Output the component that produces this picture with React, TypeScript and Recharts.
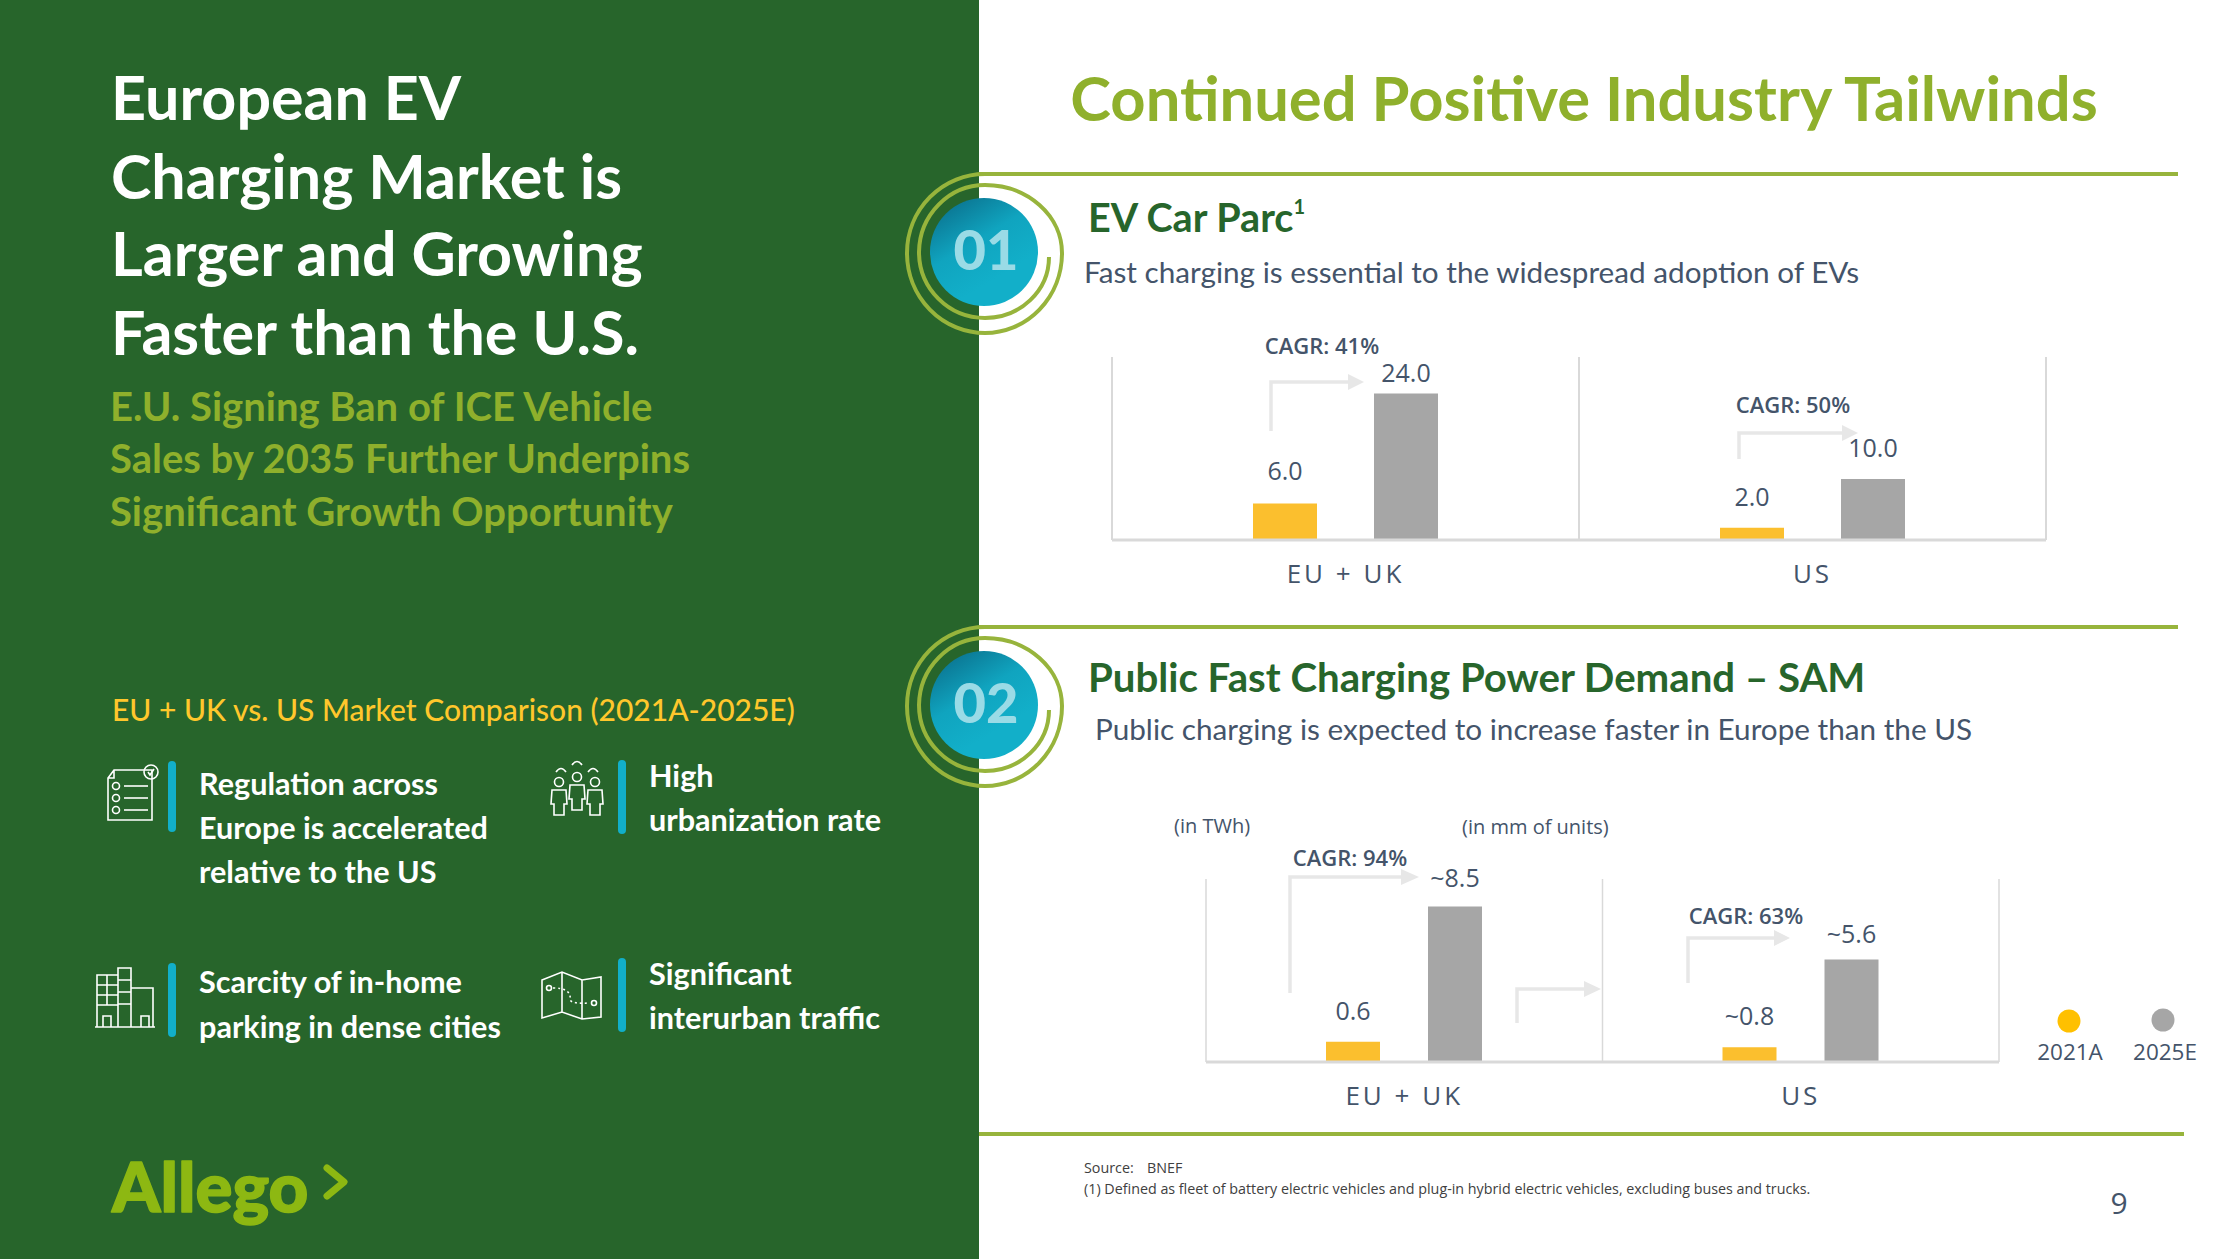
import { BarChart, Bar, XAxis, YAxis, CartesianGrid, LabelList } from "recharts";

// ─── Data ─────────────────────────────────────────────────────────────────────

const regions = ["EU + UK", "US"];
const carParc2021 = [6.0, 2.0];
const carParc2025 = [24.0, 10.0];
const carParcLabels2021 = ["6.0", "2.0"];
const carParcLabels2025 = ["24.0", "10.0"];

// the 0.6 bar sits in TWh on the slide, so its drawn height is taller than its label
const demand2021 = [1.1, 0.8];
const demand2025 = [8.5, 5.6];
const demandLabels2021 = ["0.6", "~0.8"];
const demandLabels2025 = ["~8.5", "~5.6"];

const legendItems = ["2021A", "2025E"];

const headingLines = ["European EV", "Charging Market is", "Larger and Growing", "Faster than the U.S."];
const subheadingLines = ["E.U. Signing Ban of ICE Vehicle", "Sales by 2035 Further Underpins", "Significant Growth Opportunity"];

// ─── Colours ──────────────────────────────────────────────────────────────────

const PANEL = "#27652B";
const LIME = "#8FB02C";
const RULE = "#97B43C";
const SLATE = "#44546A";
const YELLOW = "#FBBF2E";
const GRAY = "#A6A6A6";
const AXIS = "#D9D9D9";
const ARROW = "#E7E7E7";
const TEAL = "#12AFC9";
const SANS = "Lato";
const LABEL = "'Open Sans'";

// room above the plot so tall bar labels are not clipped by the chart's svg
const TOP_ROOM = 40;

// ─── Helpers ──────────────────────────────────────────────────────────────────

function T({ x, y, size, fill, weight = 400, anchor = "start", family = SANS, children }: any) {
  return (
    <text x={x} y={y - 1.5} fontSize={size} fill={fill} fontWeight={weight} textAnchor={anchor} fontFamily={family} dominantBaseline="central">
      {children}
    </text>
  );
}

function ElbowArrow({ x, y0, y1, x1, tip }: { x: number; y0: number; y1: number; x1: number; tip: number }) {
  return (
    <g>
      <path d={`M${x} ${y0} V${y1} H${x1}`} fill="none" stroke={ARROW} strokeWidth={3.5} />
      <path d={`M${x1} ${y1 - 8} L${tip} ${y1} L${x1} ${y1 + 8} Z`} fill={ARROW} />
    </g>
  );
}

function Badge({ dy, num }: { dy: number; num: string }) {
  return (
    <g transform={`translate(0 ${dy})`}>
      <circle cx={984} cy={252} r={54} fill="url(#discGradient)" />
      <path
        d="M985 174 A78 79 0 0 0 907 253 A78 80 0 0 0 985 333 A77 80 0 0 0 1062 253 A77 68 0 0 0 985 185 A66 68 0 0 0 919 252 A66 66 0 0 0 985 318 A64 61 0 0 0 1049 257"
        fill="none"
        stroke={RULE}
        strokeWidth={4}
      />
      <T x={986} y={250} size={56} fill="#9ADBE6" weight={900} anchor="middle">{num}</T>
    </g>
  );
}

function LineIcons() {
  const s = { fill: "none", stroke: "#fff", strokeWidth: 1.6 };
  return (
    <g>
      {/* checklist */}
      <path d="M114 770 H152 V820 H108 V778 Z M108 778 H114 V770" {...s} />
      <circle cx={151} cy={772} r={7} {...s} />
      <path d="M148 772 L150 775 L154 769" {...s} />
      {[786, 798, 810].map((y) => (
        <g key={y}>
          <circle cx={116} cy={y} r={3.5} {...s} />
          <path d={`M124 ${y} H148`} {...s} />
        </g>
      ))}
      {/* people */}
      {[[559, 782], [577, 777], [595, 782]].map(([x, y]) => (
        <g key={x}>
          <circle cx={x} cy={y} r={4.5} {...s} />
          <path d={`M${x - 7} ${y + 8} H${x + 7} L${x + 8} ${y + 22} H${x + 5} V${y + 33} H${x - 5} V${y + 22} H${x - 8} Z`} {...s} />
        </g>
      ))}
      <path d="M556 772 Q561 765 566 772 M572 765 Q577 758 582 765 M588 772 Q593 765 598 772" {...s} />
      {/* buildings */}
      <path d="M95 1027 H155 M97 1027 V975 H118 V1027 M118 1027 V968 H131 V1027 M131 1027 V988 H153 V1027" {...s} />
      <path d="M97 985 H118 M97 995 H118 M97 1005 H118 M107 975 V1005 M118 980 H131 M118 992 H131 M118 1004 H131" {...s} />
      <path d="M103 1027 V1016 H111 V1027 M141 1027 V1016 H149 V1027" {...s} />
      {/* map */}
      <path d="M542 980 L562 972 L582 980 L601 977 V1017 L582 1019 L562 1012 L542 1018 Z M562 972 V1012 M582 980 V1019" {...s} />
      <circle cx={549} cy={988} r={2.5} {...s} />
      <circle cx={594} cy={1003} r={2.5} {...s} />
      <path d="M553 988 Q572 988 570 1000 Q572 1004 590 1003" {...s} strokeDasharray="2 3" />
    </g>
  );
}

// ─── Chart ────────────────────────────────────────────────────────────────────

function RegionBars({ v2021, v2025, labels2021, labels2025, gaps2021, gaps2025, max, width, height, barSize, barGap, gridWidth }: any) {
  const rows = regions.map((region, i) => ({
    region,
    a: v2021[i],
    b: v2025[i],
    labelA: labels2021[i],
    labelB: labels2025[i],
  }));

  const barLabel = (gaps: number[]) => (p: any) => (
    <text
      x={p.x + p.width / 2}
      y={p.y - gaps[p.index]}
      textAnchor="middle"
      dominantBaseline="central"
      fontSize={25}
      fontFamily={LABEL}
      fill={SLATE}
    >
      {p.value}
    </text>
  );

  return (
    <BarChart
      width={width + 8}
      height={height + 60 + TOP_ROOM}
      data={rows}
      barSize={barSize}
      barGap={barGap}
      margin={{ top: TOP_ROOM, right: 4, left: 4, bottom: 0 }}
    >
      <CartesianGrid
        horizontal={false}
        stroke={AXIS}
        strokeWidth={gridWidth}
        verticalCoordinatesGenerator={({ offset }: any) => [
          offset.left,
          offset.left + offset.width / 2,
          offset.left + offset.width,
        ]}
      />
      <XAxis
        dataKey="region"
        height={60}
        axisLine={{ stroke: AXIS, strokeWidth: 3 }}
        tickLine={false}
        tickMargin={19}
        interval={0}
        tick={{ fontSize: 26, fill: SLATE, fontFamily: LABEL, letterSpacing: 3 }}
      />
      <YAxis hide domain={[0, max]} />
      <Bar dataKey="a" fill={YELLOW} isAnimationActive={false}>
        <LabelList dataKey="labelA" content={barLabel(gaps2021)} />
      </Bar>
      <Bar dataKey="b" fill={GRAY} isAnimationActive={false}>
        <LabelList dataKey="labelB" content={barLabel(gaps2025)} />
      </Bar>
    </BarChart>
  );
}

// ─── Slide ────────────────────────────────────────────────────────────────────

export default function App() {
  const headingY = [98, 177, 254, 333];
  const subY = [407, 459, 512];
  const itemSize = 30.6;
  return (
    <div style={{ position: "absolute", left: 0, top: 0, width: 2239, height: 1259, background: "#fff", overflow: "hidden" }}>
      <svg width={2239} height={1259} style={{ position: "absolute", left: 0, top: 0 }}>
        <defs>
          <linearGradient id="discGradient" x1="0.15" y1="0" x2="0.6" y2="0.75">
            <stop offset="0%" stopColor="#0A6F8C" />
            <stop offset="55%" stopColor="#10A4BF" />
            <stop offset="100%" stopColor={TEAL} />
          </linearGradient>
        </defs>

        <rect x={0} y={0} width={979} height={1259} fill={PANEL} />

        {headingLines.map((line, i) => (
          <T key={line} x={111} y={headingY[i]} size={61} fill="#fff" weight={700}>{line}</T>
        ))}
        {subheadingLines.map((line, i) => (
          <T key={line} x={110} y={subY[i]} size={40} fill={LIME} weight={700}>{line}</T>
        ))}
        <T x={112} y={710} size={30} fill="#FFC72C" weight={500}>EU + UK vs. US Market Comparison (2021A-2025E)</T>

        <LineIcons />
        {[[172, 761, 71], [622, 760, 74], [172, 963, 74], [622, 958, 74]].map(([x, y, h]) => (
          <rect key={`${x}-${y}`} x={x - 4} y={y} width={8} height={h} rx={4} fill={TEAL} />
        ))}
        <T x={199} y={785} size={itemSize} fill="#fff" weight={700}>Regulation across</T>
        <T x={199} y={829} size={itemSize} fill="#fff" weight={700}>Europe is accelerated</T>
        <T x={199} y={873} size={itemSize} fill="#fff" weight={700}>relative to the US</T>
        <T x={649} y={777} size={itemSize} fill="#fff" weight={700}>High</T>
        <T x={649} y={821} size={itemSize} fill="#fff" weight={700}>urbanization rate</T>
        <T x={199} y={983} size={itemSize} fill="#fff" weight={700}>Scarcity of in-home</T>
        <T x={199} y={1028} size={itemSize} fill="#fff" weight={700}>parking in dense cities</T>
        <T x={649} y={975} size={itemSize} fill="#fff" weight={700}>Significant</T>
        <T x={649} y={1019} size={itemSize} fill="#fff" weight={700}>interurban traffic</T>

        {/* logo */}
        <text x={112} y={1212} fontSize={69} fontFamily={SANS} fontWeight={900} fill="#8DB812" stroke="#8DB812" strokeWidth={1.5} strokeLinejoin="round">Allego</text>
        <path d="M327 1168 L344 1182 L327 1196" fill="none" stroke="#8DB812" strokeWidth={7} strokeLinecap="round" strokeLinejoin="round" />

        {/* right side headings */}
        <T x={1584} y={98} size={61.5} fill={LIME} weight={700} anchor="middle">Continued Positive Industry Tailwinds</T>
        <path d="M979 174 H2178 M979 627 H2178 M979 1134 H2184" stroke={RULE} strokeWidth={4} fill="none" />

        <Badge dy={0} num="01" />
        <Badge dy={453} num="02" />

        <text x={1088} y={216} fontSize={39.6} fontFamily={SANS} fontWeight={700} fill={PANEL} dominantBaseline="central">
          EV Car Parc<tspan fontSize={20} dy={-10}>1</tspan>
        </text>
        <T x={1084} y={273} size={29.7} fill={SLATE}>Fast charging is essential to the widespread adoption of EVs</T>
        <T x={1088} y={678} size={40.2} fill={PANEL} weight={700}>Public Fast Charging Power Demand – SAM</T>
        <T x={1095} y={730} size={29.7} fill={SLATE}>Public charging is expected to increase faster in Europe than the US</T>

        {/* growth annotations */}
        <ElbowArrow x={1271} y0={431} y1={382} x1={1348} tip={1364} />
        <ElbowArrow x={1739} y0={459} y1={433} x1={1842} tip={1858} />
        <ElbowArrow x={1290} y0={993} y1={877} x1={1401} tip={1419} />
        <ElbowArrow x={1517} y0={1023} y1={989} x1={1584} tip={1601} />
        <ElbowArrow x={1688} y0={983} y1={938} x1={1774} tip={1790} />
        <T x={1322} y={346} size={22} fill={SLATE} weight={600} anchor="middle" family={LABEL}>CAGR: 41%</T>
        <T x={1793} y={405} size={22} fill={SLATE} weight={600} anchor="middle" family={LABEL}>CAGR: 50%</T>
        <T x={1350} y={858} size={22} fill={SLATE} weight={600} anchor="middle" family={LABEL}>CAGR: 94%</T>
        <T x={1746} y={916} size={22} fill={SLATE} weight={600} anchor="middle" family={LABEL}>CAGR: 63%</T>
        <T x={1174} y={827} size={20} fill={SLATE} family={LABEL}>(in TWh)</T>
        <T x={1462} y={828} size={20} fill={SLATE} family={LABEL}>(in mm of units)</T>

        {/* legend */}
        <circle cx={2069} cy={1021} r={11.5} fill="#FFC000" />
        <circle cx={2163} cy={1020} r={11.5} fill={GRAY} />
        <T x={2070} y={1053} size={22.5} fill={SLATE} anchor="middle" family={LABEL}>{legendItems[0]}</T>
        <T x={2165} y={1053} size={22.5} fill={SLATE} anchor="middle" family={LABEL}>{legendItems[1]}</T>

        {/* footnotes */}
        <T x={1084} y={1169} size={14.3} fill="#404040" family={LABEL}>Source:</T>
        <T x={1147} y={1169} size={14.3} fill="#404040" family={LABEL}>BNEF</T>
        <T x={1084} y={1190} size={14.3} fill="#404040" family={LABEL}>(1) Defined as fleet of battery electric vehicles and plug-in hybrid electric vehicles, excluding buses and trucks.</T>
        <T x={2119} y={1204} size={30} fill={SLATE} anchor="middle" family={LABEL}>9</T>
      </svg>

      <div style={{ position: "absolute", left: 1108, top: 357 - TOP_ROOM }}>
        <RegionBars
          v2021={carParc2021}
          v2025={carParc2025}
          labels2021={carParcLabels2021}
          labels2025={carParcLabels2025}
          gaps2021={[33, 32]}
          gaps2025={[22, 32]}
          max={30}
          width={934}
          height={183}
          barSize={64}
          barGap={57}
          gridWidth={2}
        />
      </div>
      <div style={{ position: "absolute", left: 1202, top: 879 - TOP_ROOM }}>
        <RegionBars
          v2021={demand2021}
          v2025={demand2025}
          labels2021={demandLabels2021}
          labels2025={demandLabels2025}
          gaps2021={[32, 32]}
          gaps2025={[29, 27]}
          max={10}
          width={793}
          height={183}
          barSize={54}
          barGap={48}
          gridWidth={1.5}
        />
      </div>
    </div>
  );
}
